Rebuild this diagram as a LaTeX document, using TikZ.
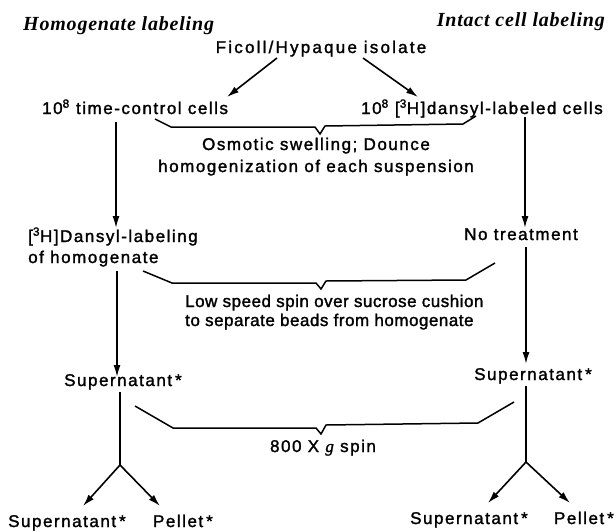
\documentclass[tikz,border=0pt]{standalone}
\usepackage{fontspec}
\setmainfont{Liberation Sans}[LetterSpace=9,FakeBold=1.6]
\newfontfamily\headfont{Liberation Serif}[LetterSpace=4]
\newfontfamily\gfont{Liberation Serif}[FakeBold=1.5]
\newcommand{\mystar}{\hspace{3pt}*}
\usetikzlibrary{arrows.meta}
\begin{document}
\begin{tikzpicture}[x=1pt,y=-1pt,
  txt/.style={inner sep=0pt, font=\fontsize{17}{19}\selectfont},
  tight/.style={font=\fontsize{17}{19}\selectfont\addfontfeatures{LetterSpace=3}},
  head/.style={inner sep=0pt, font=\fontsize{20}{22}\headfont\bfseries\itshape},
  conn/.style={line width=1.6pt},
  arr/.style={conn,-{Latex[length=12pt,width=7pt]}},
  brace/.style={line width=1.5pt, line join=miter}]
\useasboundingbox (0,0) rectangle (616,531);

% headings
\node[head, anchor=base west] (hl) at (23,30) {Homogenate labeling};
\node[head, anchor=base east] (il) at (605,26) {Intact cell labeling};

% top
\node[txt, anchor=base, font=\fontsize{17}{19}\selectfont\addfontfeatures{LetterSpace=13}] (fic) at (321,53) {Ficoll/Hypaque isolate};
\node[txt, anchor=base west] (tc) at (42,114) {10\textsuperscript{8} time-control cells};
\node[txt, anchor=base east] (dl) at (603,114) {10\textsuperscript{8} [\textsuperscript{3}H]dansyl-labeled cells};

\coordinate (f1) at (277,58); \coordinate (f1e) at (227,97);
\coordinate (f2) at (363,58); \coordinate (f2e) at (418,97);
\draw[arr] (f1) -- (f1e);
\draw[arr] (f2) -- (f2e);

% brace 1
\draw[brace] (155,119) -- (171,127) -- (315,127) -- (320,134) -- (325,126) -- (463,124) -- (476,116);
\node[txt, anchor=base] (os1) at (316,150) {Osmotic swelling; Dounce};
\node[txt, anchor=base] (os2) at (316,172) {homogenization of each suspension};

% second level
\node[txt, anchor=base west] (ds1) at (28,242) {[\textsuperscript{3}H]Dansyl-labeling};
\node[txt, anchor=base west] (ds2) at (28,263) {of homogenate};
\node[txt, anchor=base east] (nt) at (578,240) {No treatment};

\coordinate (l1s) at (116,122); \coordinate (l1e) at (116,228);
\coordinate (r1s) at (525,117); \coordinate (r1e) at (525,228);
\draw[arr] (l1s) -- (l1e);
\draw[arr] (r1s) -- (r1e);

% brace 2
\draw[brace] (143,271) -- (172,283) -- (316,283) -- (321,289) -- (326,281) -- (466,280) -- (495,263);
\node[txt, tight, anchor=base west] (ls1) at (185,307) {Low speed spin over sucrose cushion};
\node[txt, tight, anchor=base west] (ls2) at (185,326) {to separate beads from homogenate};

% third level
\coordinate (l2s) at (117,271); \coordinate (l2e) at (117,377);
\coordinate (r2s) at (526,247); \coordinate (r2e) at (526,364);
\draw[arr] (l2s) -- (l2e);
\draw[arr] (r2s) -- (r2e);
\node[txt, anchor=base west] (sl) at (64,386) {Supernatant\mystar};
\node[txt, anchor=base east] (sr) at (592,380) {Supernatant\mystar};

% brace 3
\draw[brace] (135,406) -- (173,428) -- (316,428) -- (321,434) -- (326,425) -- (478,423) -- (514,402);
\node[txt, anchor=base] (sp) at (323,452) {800 X {\gfont\itshape g} spin};

% splits
\coordinate (ls) at (120,392); \coordinate (lj) at (120,465);
\coordinate (la) at (83,506); \coordinate (lb) at (160,506);
\draw[conn] (ls) -- (lj);
\draw[arr] (lj) -- (la);
\draw[arr] (lj) -- (lb);
\coordinate (rs) at (526,386); \coordinate (rj) at (526,462);
\coordinate (ra) at (488,503); \coordinate (rb) at (570,503);
\draw[conn] (rs) -- (rj);
\draw[arr] (rj) -- (ra);
\draw[arr] (rj) -- (rb);

% bottom
\node[txt, anchor=base west] (bsl) at (8,527) {Supernatant\mystar};
\node[txt, anchor=base east] (bpl) at (213,527) {Pellet\mystar};
\node[txt, anchor=base west] (bsr) at (410,524) {Supernatant\mystar};
\node[txt, anchor=base east] (bpr) at (614,524) {Pellet\mystar};
\end{tikzpicture}
\end{document}
